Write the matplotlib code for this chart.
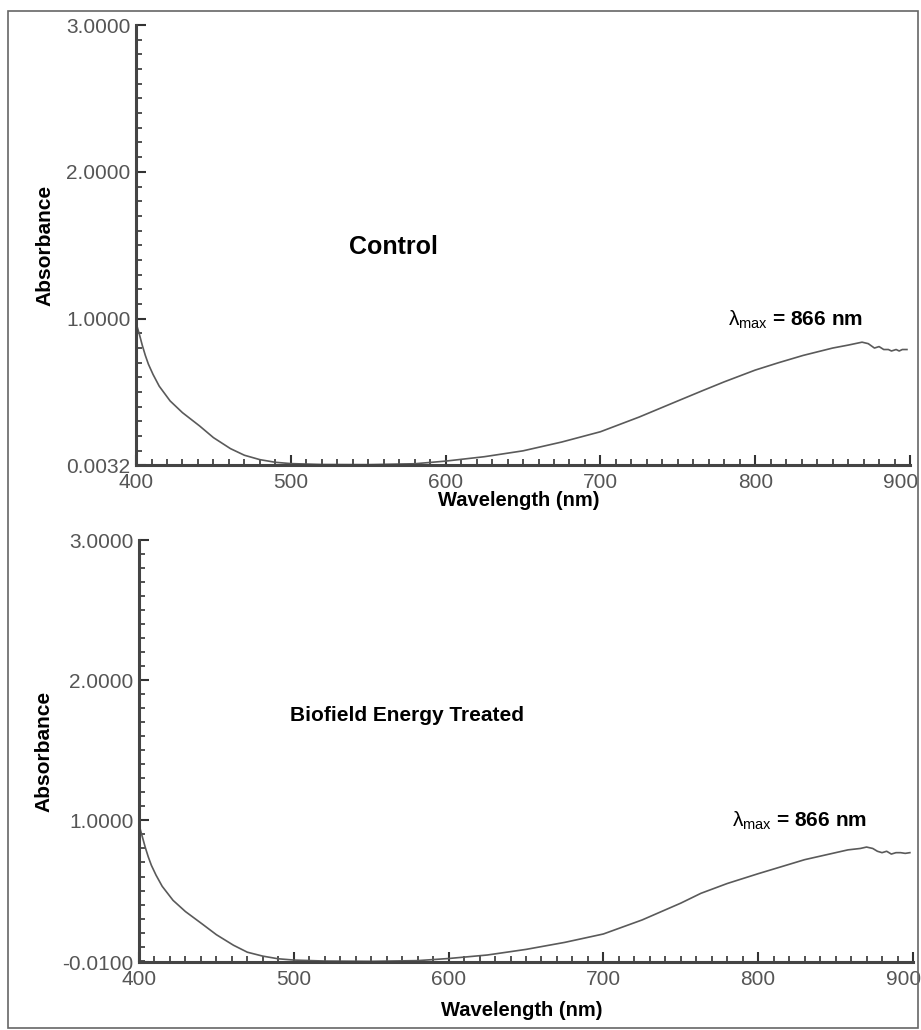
import numpy as np
import matplotlib.pyplot as plt
from matplotlib.patches import Rectangle
from matplotlib.ticker import MultipleLocator, FixedLocator

plt.rcParams['font.family'] = ['Liberation Sans', 'DejaVu Sans']
plt.rcParams['mathtext.fontset'] = 'custom'
plt.rcParams['mathtext.rm'] = 'Liberation Sans'
plt.rcParams['mathtext.it'] = 'Liberation Sans'

# UV-vis spectra
wl_control = [400, 402, 404, 406, 408, 411, 415, 422, 430, 441, 450, 461, 470, 480, 490,
              500, 520, 550, 580, 600, 625, 650, 675, 700, 725, 750, 766, 780, 800, 815,
              831, 850, 860, 869, 873, 877, 880, 883, 886, 888, 891, 893, 895, 898]
abs_control = [0.97, 0.90, 0.82, 0.75, 0.69, 0.62, 0.54, 0.44, 0.36, 0.27, 0.19, 0.115, 0.07, 0.04, 0.022,
               0.013, 0.007, 0.006, 0.012, 0.03, 0.06, 0.10, 0.16, 0.23, 0.33, 0.44, 0.51, 0.57, 0.65, 0.70,
               0.75, 0.80, 0.82, 0.84, 0.83, 0.80, 0.81, 0.79, 0.79, 0.78, 0.79, 0.78, 0.79, 0.79]

wl_treated = [400, 402, 404, 406, 408, 411, 415, 422, 430, 441, 450, 461, 470, 480, 490,
              500, 520, 550, 580, 600, 625, 650, 675, 700, 725, 750, 763, 780, 800, 815,
              830, 850, 858, 866, 870, 874, 877, 880, 883, 886, 889, 892, 895, 898]
abs_treated = [0.97, 0.89, 0.81, 0.74, 0.68, 0.61, 0.53, 0.43, 0.35, 0.26, 0.185, 0.11, 0.06, 0.032, 0.013,
               0.004, -0.003, -0.005, 0.0, 0.015, 0.04, 0.08, 0.13, 0.19, 0.29, 0.41, 0.48, 0.55, 0.62, 0.67,
               0.72, 0.77, 0.79, 0.80, 0.81, 0.80, 0.78, 0.77, 0.78, 0.76, 0.77, 0.77, 0.765, 0.77]

panels = [
    dict(wl=wl_control, a=abs_control, ymin=0.0032, title='Control', title_size=18,
         rect=[0.1477, 0.5485, 0.8404, 0.4272], title_xy=(566, 1.49), lam_xy=(826, 0.99),
         ylab_x=-0.105, xlab_y=-0.058),
    dict(wl=wl_treated, a=abs_treated, ymin=-0.0100, title='Biofield Energy Treated', title_size=15,
         rect=[0.1509, 0.0660, 0.8404, 0.4097], title_xy=(573, 1.75), lam_xy=(827, 1.0),
         ylab_x=-0.111, xlab_y=-0.092),
]

fig = plt.figure(figsize=(9.21, 10.30), dpi=100)
fig.patches.append(Rectangle((0.009, 0.002), 0.988, 0.987, transform=fig.transFigure,
                             fill=False, edgecolor='#666666', linewidth=1.2))

grey = '#555555'
for p in panels:
    ax = fig.add_axes(p['rect'])
    ax.plot(p['wl'], p['a'], color='#5a5a5a', linewidth=1.2)
    ax.set_xlim(400, 900)
    ax.set_ylim(p['ymin'], 3.0)
    for s in ['top', 'right']:
        ax.spines[s].set_visible(False)
    for s in ['left', 'bottom']:
        ax.spines[s].set_color('#444444')
        ax.spines[s].set_linewidth(2.2)
    ax.xaxis.set_major_locator(FixedLocator([400, 500, 600, 700, 800, 900]))
    ax.xaxis.set_minor_locator(MultipleLocator(10))
    # last label is pulled in from the edge, like the instrument software does
    ax.xaxis.set_major_formatter(lambda v, pos: '' if v == 900 else '%d' % v)
    ax.yaxis.set_major_locator(FixedLocator([p['ymin'], 1.0, 2.0, 3.0]))
    ax.yaxis.set_minor_locator(MultipleLocator(0.1))
    ax.yaxis.set_major_formatter(lambda v, pos: '%.4f' % v)
    ax.tick_params(which='both', direction='in', color='#333333', labelcolor=grey,
                   labelsize=15)
    ax.tick_params(which='major', length=7, width=1.5)
    ax.tick_params(which='minor', length=4, width=1.2)
    ax.tick_params(axis='y', pad=4)
    ax.tick_params(axis='x', pad=6)
    ax.annotate('900', xy=(900, 0), xycoords=('data', 'axes fraction'), xytext=(-7, -6),
                textcoords='offset points', ha='center', va='top', fontsize=15, color=grey)
    ax.set_xlabel('Wavelength (nm)', fontsize=14.5, fontweight='bold')
    ax.xaxis.set_label_coords(0.494, p['xlab_y'])
    ax.set_ylabel('Absorbance', fontsize=15, fontweight='bold')
    ax.yaxis.set_label_coords(p['ylab_x'], 0.5)
    ax.text(p['title_xy'][0], p['title_xy'][1], p['title'], fontsize=p['title_size'],
            fontweight='bold', ha='center', va='center')
    ax.text(p['lam_xy'][0], p['lam_xy'][1], r'$\lambda_{\rm max}$ = 866 nm', fontsize=15,
            fontweight='bold', ha='center', va='center')

fig.savefig('out.png', dpi=100)
